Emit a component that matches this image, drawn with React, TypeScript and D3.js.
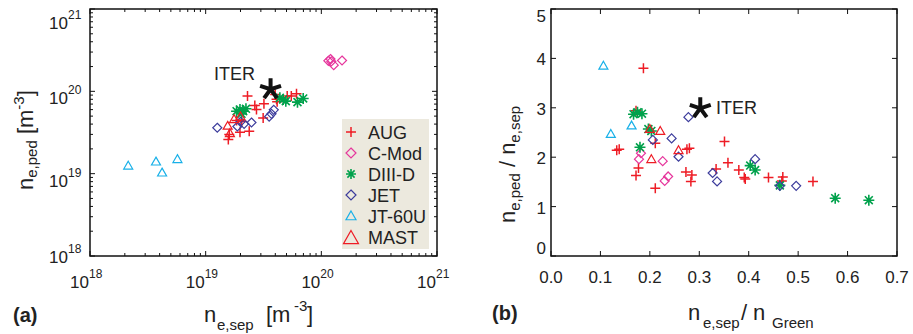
import React from 'react';
import * as d3 from 'd3';

// panel (a): [n_e,sep, n_e,ped] in m^-3
const augA = [[2.30e19, 8.75e19], [2.66e19, 6.73e19], [2.75e19, 6.02e19], [3.19e19, 7.05e19], [3.14e19, 4.76e19], [3.99e19, 9.16e19], [4.15e19, 7.46e19], [4.1e19, 8.0e19], [5.07e19, 8.75e19], [5.5e19, 8.8e19], [6.10e19, 9.33e19], [2.38e19, 3.28e19], [1.98e19, 3.19e19], [1.57e19, 2.60e19], [1.60e19, 2.99e19], [1.85e19, 4.43e19], [2.05e19, 4.3e19]];
const cmodA = [[1.15e20, 2.35e20], [1.20e20, 2.47e20], [1.22e20, 2.31e20], [1.28e20, 2.08e20], [1.51e20, 2.37e20]];
const diiidA = [[1.85e19, 5.74e19], [1.98e19, 6.02e19], [2.11e19, 5.74e19], [2.04e19, 5.33e19], [2.23e19, 6.14e19], [4.38e19, 8.33e19], [4.68e19, 7.96e19], [4.93e19, 7.60e19], [6.22e19, 7.39e19], [6.97e19, 8.19e19]];
const jetA = [[1.26e19, 3.61e19], [1.88e19, 3.74e19], [2.00e19, 4.26e19], [2.49e19, 4.18e19], [3.54e19, 4.94e19], [3.71e19, 5.33e19], [3.88e19, 5.96e19], [2.15e19, 4.03e19]];
const jt60uA = [[2.14e18, 1.25e19], [3.72e18, 1.40e19], [4.2e18, 1.03e19], [5.7e18, 1.50e19]];
const mastA = [[1.55e19, 3.81e19], [1.62e19, 3.10e19], [1.76e19, 4.59e19], [2.00e19, 4.94e19]];
const iterA = [3.64e19, 1.06e20];

// panel (b): [n_e,sep / n_Green, n_e,ped / n_e,sep]
const augB = [[0.187, 3.80], [0.133, 2.14], [0.138, 2.16], [0.172, 2.94], [0.177, 1.78], [0.172, 1.63], [0.211, 2.28], [0.211, 1.37], [0.275, 2.16], [0.280, 2.18], [0.273, 1.70], [0.285, 1.64], [0.283, 1.51], [0.334, 1.76], [0.351, 2.32], [0.358, 1.89], [0.380, 1.74], [0.391, 1.59], [0.393, 1.56], [0.440, 1.59], [0.469, 1.60], [0.467, 1.52], [0.530, 1.51]];
const cmodB = [[0.182, 2.08], [0.178, 1.96], [0.226, 1.92], [0.230, 1.52], [0.237, 1.61]];
const diiidB = [[0.167, 2.87], [0.175, 2.91], [0.184, 2.88], [0.197, 2.57], [0.203, 2.53], [0.180, 2.20], [0.403, 1.83], [0.413, 1.74], [0.463, 1.43], [0.575, 1.17], [0.643, 1.13]];
const jetB = [[0.278, 2.81], [0.206, 2.35], [0.244, 2.38], [0.258, 2.01], [0.327, 1.68], [0.336, 1.51], [0.413, 1.96], [0.463, 1.42], [0.496, 1.42]];
const jt60uB = [[0.106, 3.85], [0.121, 2.47], [0.163, 2.64]];
const mastB = [[0.200, 2.57], [0.221, 2.53], [0.203, 1.96], [0.258, 2.14]];
const iterB = [0.302, 2.99];

const xTicksB = [0, 0.1, 0.2, 0.3, 0.4, 0.5, 0.6, 0.7];
const yTicksB = [0, 1, 2, 3, 4, 5];

const series = [
  { name: 'AUG', color: '#ee1c25', shape: 'plus', a: augA, b: augB },
  { name: 'C-Mod', color: '#e6369c', shape: 'diamond', a: cmodA, b: cmodB },
  { name: 'DIII-D', color: '#00a14b', shape: 'asterisk', a: diiidA, b: diiidB },
  { name: 'JET', color: '#3c3c9c', shape: 'diamond', a: jetA, b: jetB },
  { name: 'JT-60U', color: '#18b0e8', shape: 'triangle', a: jt60uA, b: jt60uB },
  { name: 'MAST', color: '#ee1c25', shape: 'triangle', a: mastA, b: mastB },
];

const FONT = '"Liberation Sans", Arial, Helvetica, sans-serif';
const boxA = { l: 90, r: 437, t: 9, b: 256 };
const boxB = { l: 551, r: 897, t: 9, b: 256 };

const xA = d3.scaleLog().domain([1e18, 1e21]).range([boxA.l, boxA.r]);
const yA = d3.scaleLog().domain([1e18, 1e21]).range([boxA.b, boxA.t]);
const xB = d3.scaleLinear().domain([0, 0.7]).range([boxB.l, boxB.r]);
const yB = d3.scaleLinear().domain([0, 5]).range([boxB.b, boxB.t]);

const markerPath = (shape: string, r: number) => {
  if (shape === 'plus') return `M${-r},0H${r}M0,${-r}V${r}`;
  if (shape === 'diamond') return `M0,${-r}L${r},0L0,${r}L${-r},0Z`;
  if (shape === 'triangle') return `M0,${-r}L${r},${r * 0.75}L${-r},${r * 0.75}Z`;
  // asterisk, 8 arms
  const d = r * 0.72;
  return `M${-r},0H${r}M0,${-r}V${r}M${-d},${-d}L${d},${d}M${-d},${d}L${d},${-d}`;
};

const starPath = (r: number) => {
  let p = '';
  for (let i = 0; i < 5; i++) {
    const a = -Math.PI / 2 + (i * 2 * Math.PI) / 5;
    p += `M0,0L${(r * Math.cos(a)).toFixed(2)},${(r * Math.sin(a)).toFixed(2)}`;
  }
  return p;
};

const isMajor = (v: number) => Math.abs(Math.log10(v) - Math.round(Math.log10(v))) < 1e-9;
const clamp = (v: number, lo: number, hi: number) => Math.max(lo, Math.min(hi, v));

const Marker = ({ shape, color, x, y, r }: any) => (
  <path d={markerPath(shape, r)} transform={`translate(${x},${y})`} fill="none" stroke={color}
    strokeWidth={shape === 'asterisk' ? 1.6 : shape === 'plus' ? 1.5 : 1.2} />
);

const markerR = (shape: string) => (shape === 'asterisk' ? 5.5 : shape === 'plus' ? 5 : 4.5);

const PanelA = () => {
  const ticks = xA.ticks();
  return (
    <g>
      {/* ticks on all four sides */}
      {ticks.map((v, i) => {
        const len = isMajor(v) ? 5 : 3;
        const x = xA(v), y = yA(v);
        return (
          <g key={'t' + i} stroke="#111" strokeWidth={1}>
            <line x1={x} x2={x} y1={boxA.b} y2={boxA.b - len} />
            <line x1={x} x2={x} y1={boxA.t} y2={boxA.t + len} />
            <line x1={boxA.l} x2={boxA.l + len} y1={y} y2={y} />
            <line x1={boxA.r} x2={boxA.r - len} y1={y} y2={y} />
          </g>
        );
      })}
      <rect x={boxA.l} y={boxA.t} width={boxA.r - boxA.l} height={boxA.b - boxA.t} fill="none" stroke="#111" strokeWidth={1.5} />
      {ticks.filter(isMajor).map((v, i) => {
        const e = Math.round(Math.log10(v));
        const by = clamp(yA(v) + 13, 29, 263);
        return (
          <g key={'l' + i} fontFamily={FONT} fill="#222">
            <text x={68} y={by} fontSize={17} textAnchor="end">10</text>
            <text x={68} y={by - 10} fontSize={12}>{e}</text>
            <text x={xA(v) - 1} y={288} fontSize={17} textAnchor="end">10</text>
            <text x={xA(v) - 1} y={278} fontSize={12}>{e}</text>
          </g>
        );
      })}
      {series.map(s => s.a.map((d, i) => (
        <Marker key={s.name + i} shape={s.shape} color={s.color} x={xA(d[0])} y={yA(d[1])} r={markerR(s.shape)} />
      )))}
      <path d={starPath(11)} transform={`translate(${xA(iterA[0])},${yA(iterA[1])})`} stroke="#111" strokeWidth={4} fill="none" />
      <text x={214} y={80} fontFamily={FONT} fontSize={18} fill="#222">ITER</text>
      {/* legend */}
      <rect x={342} y={119} width={87} height={130} fill="#ece9de" />
      {series.map((s, i) => {
        const cy = 132 + i * 21;
        return (
          <g key={'lg' + i}>
            <Marker shape={s.shape} color={s.color} x={351} y={s.name === 'MAST' ? cy + 1 : cy} r={s.name === 'MAST' ? 7.5 : 5} />
            <text x={368} y={cy + 6.5} fontFamily={FONT} fontSize={18} fill="#222">{s.name}</text>
          </g>
        );
      })}
      {/* axis titles */}
      <text transform="translate(33,190) rotate(-90)" fontFamily={FONT} fontSize={22} fill="#222">
        n<tspan fontSize={15} dy={4}>e,ped</tspan><tspan dy={-4}> [m</tspan><tspan fontSize={15} dy={-9}>-3</tspan><tspan dy={9}>]</tspan>
      </text>
      <text y={322} fontFamily={FONT} fill="#222">
        <tspan x={204} fontSize={22}>n</tspan>
        <tspan x={217} dy={8} fontSize={15}>e,sep</tspan>
        <tspan x={266} dy={-8} fontSize={22}>[m</tspan>
        <tspan x={294} dy={-11} fontSize={15}>-3</tspan>
        <tspan x={307} dy={11} fontSize={22}>]</tspan>
      </text>
      <text x={13} y={322} fontFamily={FONT} fontSize={20} fontWeight="bold" fill="#222">(a)</text>
    </g>
  );
};

const PanelB = () => (
  <g>
    {xTicksB.map((v, i) => (
      <g key={'x' + i} stroke="#111" strokeWidth={1}>
        <line x1={xB(v)} x2={xB(v)} y1={boxB.b} y2={boxB.b - 5} />
        <line x1={xB(v)} x2={xB(v)} y1={boxB.t} y2={boxB.t + 5} />
      </g>
    ))}
    {yTicksB.map((v, i) => (
      <g key={'y' + i} stroke="#111" strokeWidth={1}>
        <line x1={boxB.l} x2={boxB.l + 5} y1={yB(v)} y2={yB(v)} />
        <line x1={boxB.r} x2={boxB.r - 5} y1={yB(v)} y2={yB(v)} />
      </g>
    ))}
    <rect x={boxB.l} y={boxB.t} width={boxB.r - boxB.l} height={boxB.b - boxB.t} fill="none" stroke="#111" strokeWidth={1.5} />
    {xTicksB.map((v, i) => (
      <text key={'xl' + i} x={xB(v)} y={283} fontFamily={FONT} fontSize={17} textAnchor="middle" fill="#222">{v.toFixed(1)}</text>
    ))}
    {yTicksB.map((v, i) => (
      <text key={'yl' + i} x={546} y={clamp(yB(v) + 1, 16, 248) + 6} fontFamily={FONT} fontSize={17} textAnchor="end" fill="#222">{v}</text>
    ))}
    {series.map(s => s.b.map((d, i) => (
      <Marker key={s.name + i} shape={s.shape} color={s.color} x={xB(d[0])} y={yB(d[1])} r={markerR(s.shape)} />
    )))}
    <path d={starPath(11)} transform={`translate(${xB(iterB[0])},${yB(iterB[1])})`} stroke="#111" strokeWidth={4} fill="none" />
    <text x={716} y={114} fontFamily={FONT} fontSize={18} fill="#222">ITER</text>
    <text transform="translate(515,223) rotate(-90)" fontFamily={FONT} fontSize={22} fill="#222">
      n<tspan fontSize={15} dy={5}>e,ped</tspan><tspan dy={-5}> / n</tspan><tspan fontSize={15} dy={5}>e,sep</tspan>
    </text>
    <text y={320} fontFamily={FONT} fill="#222">
      <tspan x={688} fontSize={22}>n</tspan>
      <tspan x={703} dy={8} fontSize={15}>e,sep</tspan>
      <tspan x={741} dy={-8} fontSize={22}>/</tspan>
      <tspan x={753} fontSize={22}>n</tspan>
      <tspan x={772} dy={8} fontSize={15}>Green</tspan>
    </text>
    <text x={492} y={320} fontFamily={FONT} fontSize={20} fontWeight="bold" fill="#222">(b)</text>
  </g>
);

export default function App() {
  return (
    <svg width={913} height={334} viewBox="0 0 913 334" style={{ position: 'absolute', left: 0, top: 0, background: '#fff' }}>
      <PanelA />
      <PanelB />
    </svg>
  );
}
